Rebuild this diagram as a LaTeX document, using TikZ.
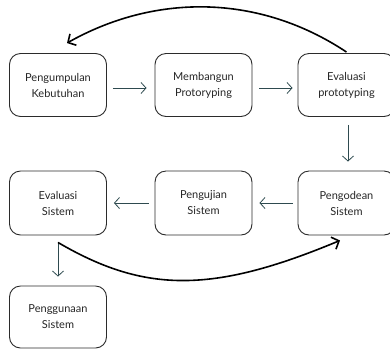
\documentclass[tikz,border=0pt]{standalone}
\usepackage{fontspec}
\setmainfont{Lato}
\usetikzlibrary{arrows.meta}
\definecolor{boxline}{HTML}{2B2B2B}
\definecolor{slate}{HTML}{2E4A4F}
\begin{document}
\begin{tikzpicture}[x=1pt,y=-1pt,
  stage/.style={draw=boxline,line width=0.9pt,rounded corners=11pt,
    minimum width=97pt,minimum height=63pt,align=center,
    font=\fontsize{11}{16}\selectfont,text=black!85},
  flow/.style={draw=slate,line width=0.8pt,
    -{Straight Barb[length=5pt,width=11pt,line width=0.8pt]}},
  loopback/.style={draw=black,line width=1.6pt,
    -{Straight Barb[length=6pt,width=13pt,line width=1.6pt]}}]
\clip (0,0) rectangle (390,349);
\fill[white] (0,0) rectangle (390,349);

% first row: prototyping cycle
\node[stage] (kumpul) at (58,85)    {Pengumpulan\\Kebutuhan};
\node[stage] (bangun) at (203.5,85) {Membangun\\Protoryping};
\node[stage] (evproto) at (346.5,85) {Evaluasi\\prototyping};

% second row: build and test
\node[stage,minimum height=64pt] (kode) at (346.5,203) {Pengodean\\Sistem};
\node[stage,minimum height=64pt] (uji) at (203.5,203) {Pengujian\\Sistem};
\node[stage,minimum height=64pt] (evsis) at (58,203)  {Evaluasi\\Sistem};

% last step
\node[stage,minimum height=62pt] (guna) at (58,317) {Penggunaan\\Sistem};

% straight connectors
\draw[flow,shorten <=6pt,shorten >=8pt] ([yshift=-3pt]kumpul.east) -- ([yshift=-3pt]bangun.west);
\draw[flow,shorten <=7pt,shorten >=5pt] ([yshift=-3pt]bangun.east) -- ([yshift=-3pt]evproto.west);
\draw[flow,shorten <=8pt,shorten >=9pt] ([xshift=1.5pt]evproto.south) -- ([xshift=1.5pt]kode.north);
\draw[flow,shorten <=5pt,shorten >=7pt] (kode.west) -- (uji.east);
\draw[flow,shorten <=6pt,shorten >=7pt] (uji.west) -- (evsis.east);
\draw[flow,shorten <=7pt,shorten >=9pt] (evsis.south) -- (guna.north);

% feedback arcs
\draw[loopback] ([yshift=1pt]evproto.north) .. controls +(-88,-58.5) and +(88,-49.5)
  .. ([xshift=9pt,yshift=10pt]kumpul.north);
\draw[loopback] ([yshift=-7pt]evsis.south) .. controls +(87,51) and +(-127,53)
  .. ([xshift=-6.5pt,yshift=-5pt]kode.south);
\end{tikzpicture}
\end{document}
